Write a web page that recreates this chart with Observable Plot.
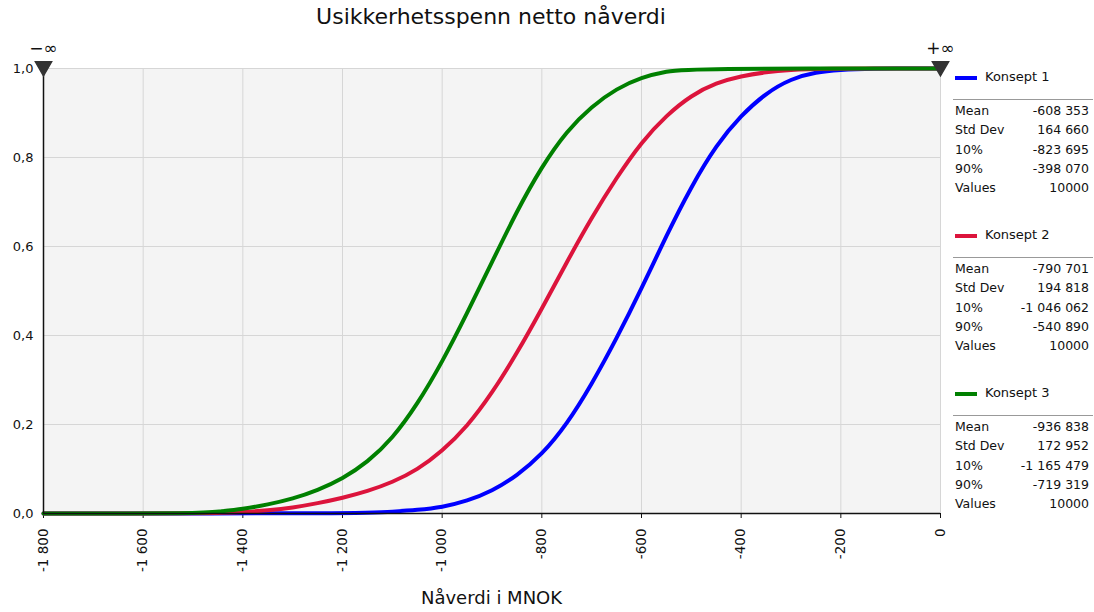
<!DOCTYPE html>
<html>
<head>
<meta charset="utf-8">
<script src="https://cdn.jsdelivr.net/npm/d3@7"></script>
<script src="https://cdn.jsdelivr.net/npm/@observablehq/plot@0.6"></script>
<style>
  html, body { margin: 0; padding: 0; background: #fff; }
  #wrap { position: relative; width: 1094px; height: 612px; overflow: hidden; font-family: "DejaVu Sans", sans-serif; color: #111; }
  #title { position: absolute; left: 0; width: 982px; top: 4px; text-align: center; font-size: 22px; color: #111; }
  #xlabel { position: absolute; left: 43px; width: 897px; top: 587px; text-align: center; font-size: 18px; color: #111; }
  #legend { position: absolute; left: 953px; top: 0; width: 141px; font-size: 12.5px; }
  .sec { position: absolute; left: 0; width: 140px; }
  .swatch { position: absolute; left: 2px; width: 22px; height: 4px; }
  .name { position: absolute; left: 32px; font-size: 13px; white-space: nowrap; }
  .sep { position: absolute; left: 0; width: 140px; height: 0; border-top: 1px solid #999; }
  .row { position: absolute; left: 2px; width: 134px; height: 16px; white-space: nowrap; }
  .row .lab { position: absolute; left: 0; }
  .row .val { position: absolute; right: 0; }
</style>
</head>
<body>
<div id="wrap">
  <div id="title"></div>
  <div id="chart"></div>
  <div id="xlabel"></div>
  <div id="legend"></div>
</div>
<script>
// ---- data ----
const titleText = "Usikkerhetsspenn netto nåverdi";
const xLabelText = "Nåverdi i MNOK";
const seriesNames = ["Konsept 1", "Konsept 2", "Konsept 3"];
const seriesColors = ["#0000ff", "#dc143c", "#008000"];

const k1X = [-1800, -1150, -1100, -1050, -1000, -950, -900, -850, -800, -750, -700, -650, -600, -550, -500, -450, -400, -350, -300, -250, -200, -150, 0];
const k1Y = [0, 0, 0.004, 0.008, 0.014, 0.028, 0.05, 0.085, 0.132, 0.2, 0.29, 0.393, 0.505, 0.625, 0.735, 0.828, 0.895, 0.945, 0.977, 0.992, 0.997, 1, 1];

const k2X = [-1800, -1450, -1400, -1350, -1300, -1250, -1200, -1150, -1100, -1050, -1000, -950, -900, -850, -800, -750, -700, -650, -600, -550, -500, -450, -400, -350, -300, -250, 0];
const k2Y = [0, 0, 0.003, 0.007, 0.013, 0.023, 0.035, 0.05, 0.07, 0.098, 0.14, 0.195, 0.27, 0.36, 0.46, 0.565, 0.665, 0.755, 0.835, 0.895, 0.94, 0.968, 0.983, 0.992, 0.997, 1, 1];

const k3X = [-1800, -1480, -1450, -1400, -1350, -1300, -1250, -1200, -1150, -1100, -1050, -1000, -950, -900, -850, -800, -750, -700, -650, -600, -550, -500, 0];
const k3Y = [0, 0, 0.004, 0.01, 0.02, 0.033, 0.052, 0.078, 0.115, 0.168, 0.245, 0.34, 0.45, 0.565, 0.68, 0.78, 0.86, 0.915, 0.955, 0.98, 0.994, 1, 1];

const xTicks = [-1800, -1600, -1400, -1200, -1000, -800, -600, -400, -200, 0];
const yTicks = [0, 0.2, 0.4, 0.6, 0.8, 1.0];

const statLabels = ["Mean", "Std Dev", "10%", "90%", "Values"];
const statK1 = ["-608 353", "164 660", "-823 695", "-398 070", "10000"];
const statK2 = ["-790 701", "194 818", "-1 046 062", "-540 890", "10000"];
const statK3 = ["-936 838", "172 952", "-1 165 479", "-719 319", "10000"];

// ---- build ----
const allX = [k1X, k2X, k3X];
const allY = [k1Y, k2Y, k3Y];
const lineData = [];
allX.forEach((xs, s) => xs.forEach((x, i) => lineData.push({s: seriesNames[s], x, y: allY[s][i]})));

const fmtX = d => {
  const a = Math.abs(d).toString().replace(/\B(?=(\d{3})+(?!\d))/g, " ");
  return (d < 0 ? "-" : "") + a;
};
const fmtY = d => d.toFixed(1).replace(".", ",");

const markers = [{x: -1800, y: 1, t: "\u2212\u221E"}, {x: 0, y: 1, t: "+\u221E"}];

const plot = Plot.plot({
  width: 1094,
  height: 612,
  marginLeft: 43,
  marginRight: 154,
  marginTop: 68,
  marginBottom: 99,
  style: {fontFamily: "DejaVu Sans, sans-serif", fontSize: "12px", color: "#111", background: "transparent", overflow: "visible"},
  x: {domain: [-1800, 0], ticks: xTicks},
  y: {domain: [0, 1], ticks: yTicks},
  color: {domain: seriesNames, range: seriesColors},
  marks: [
    Plot.frame({fill: "#f4f4f4", stroke: "#d0d0d0"}),
    Plot.gridX(xTicks, {stroke: "#d6d6d6", strokeOpacity: 1}),
    Plot.gridY(yTicks, {stroke: "#d6d6d6", strokeOpacity: 1}),
    Plot.axisX(xTicks, {tickSize: 5, tickRotate: -90, tickPadding: 10, tickFormat: fmtX, label: null, fontSize: 13.5, stroke: "#111"}),
    Plot.axisY(yTicks, {tickSize: 0, tickPadding: 10, tickFormat: fmtY, label: null, fontSize: 13}),
    Plot.line(lineData, {x: "x", y: "y", z: "s", stroke: "s", strokeWidth: 4, curve: "basis"}),
    Plot.ruleX([-1800], {stroke: "#111", strokeWidth: 1.5}),
    Plot.ruleY([0], {stroke: "#111", strokeWidth: 1.5}),
    Plot.dot(markers, {x: "x", y: "y", symbol: "triangle", r: 6, fill: "#333", stroke: "#333", rotate: 180, dy: -2}),
    Plot.text(markers, {x: "x", y: "y", text: "t", dy: -20, fontSize: 17, fill: "#111"})
  ]
});
document.getElementById("chart").appendChild(plot);

document.getElementById("title").textContent = titleText;
document.getElementById("xlabel").textContent = xLabelText;

const legend = document.getElementById("legend");
const stats = [statK1, statK2, statK3];
const secTops = [69, 227, 385];
seriesNames.forEach((name, s) => {
  const sec = document.createElement("div");
  sec.className = "sec";
  sec.style.top = secTops[s] + "px";
  let html = `<div class="swatch" style="top:7px;background:${seriesColors[s]}"></div>`;
  html += `<div class="name" style="top:0px">${name}</div>`;
  html += `<div class="sep" style="top:30px"></div>`;
  statLabels.forEach((lab, i) => {
    html += `<div class="row" style="top:${34 + i * 19.3}px"><span class="lab">${lab}</span><span class="val">${stats[s][i]}</span></div>`;
  });
  sec.innerHTML = html;
  legend.appendChild(sec);
});
</script>
</body>
</html>
